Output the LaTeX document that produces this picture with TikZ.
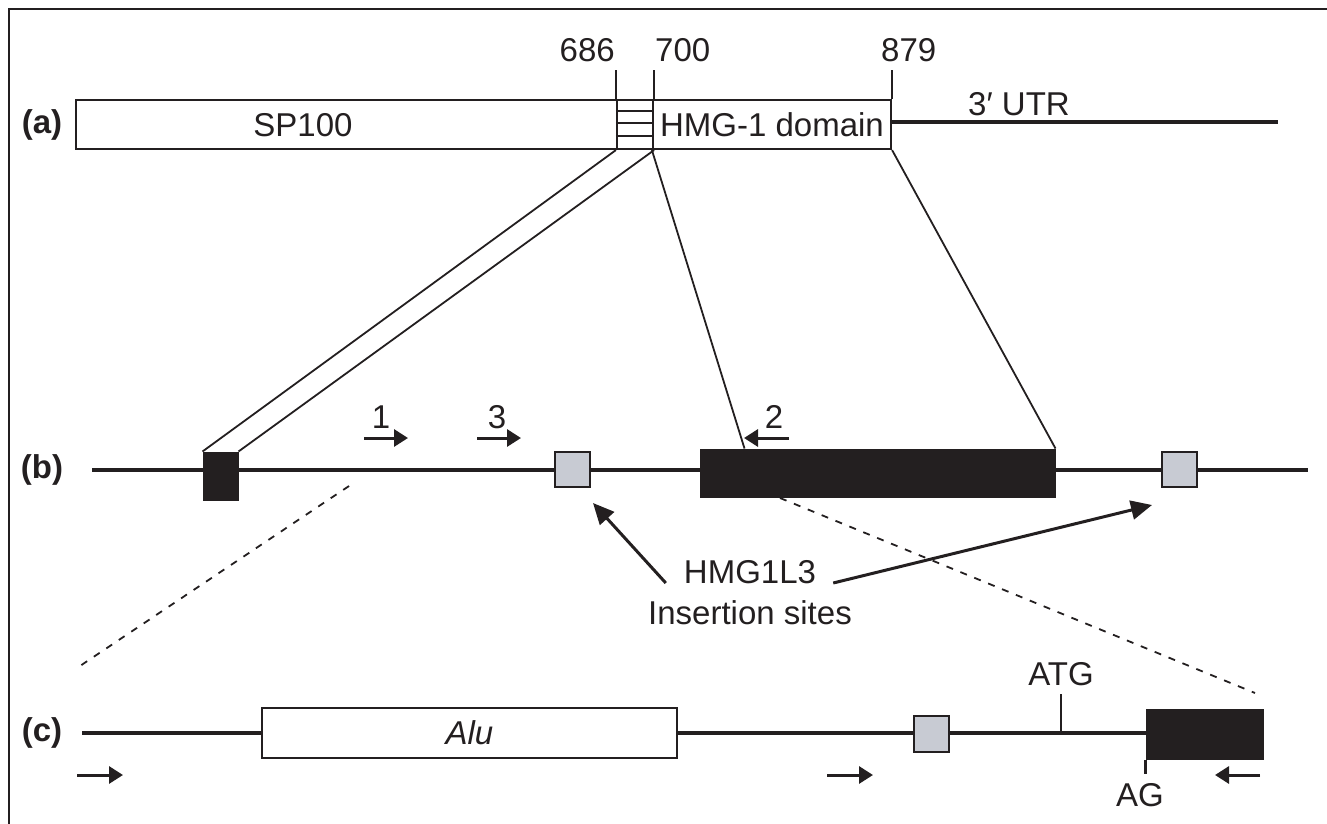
\documentclass[tikz,border=0pt]{standalone}
\definecolor{inkblack}{HTML}{231F20}
\definecolor{sitegray}{HTML}{C8CBD3}
\usepackage{fontspec}
\setmainfont{Liberation Sans}
\usepackage{tikz}
\usetikzlibrary{
    arrows.meta,
    positioning,
    calc
}
\tikzstyle{txt} = [
    inner sep=0pt,
    text=inkblack,
    font=\fontsize{33}{38}\selectfont
]
\tikzstyle{panel} = [
    txt,
    font=\fontsize{33}{38}\selectfont\bfseries
]
\tikzstyle{whitebox} = [
    rectangle,
    draw=inkblack,
    line width=2.2pt,
    fill=white,
    inner sep=0pt,
    text=inkblack,
    font=\fontsize{33}{38}\selectfont
]
\tikzstyle{exon} = [
    rectangle,
    draw=inkblack,
    line width=1pt,
    fill=inkblack,
    inner sep=0pt
]
\tikzstyle{site} = [
    rectangle,
    draw=inkblack,
    line width=2.2pt,
    fill=sitegray,
    inner sep=0pt,
    minimum width=35pt,
    minimum height=35pt
]
\tikzstyle{gene} = [
    line width=3.2pt,
    draw=inkblack
]
\tikzstyle{link} = [
    line width=1.8pt,
    draw=inkblack
]
\tikzstyle{zoomline} = [
    line width=1.8pt,
    draw=inkblack,
    dash pattern=on 7pt off 8pt
]
\tikzstyle{primer} = [
    -{Triangle[length=14pt,width=17pt]},
    line width=3pt,
    draw=inkblack,
    fill=inkblack
]
\tikzstyle{pointer} = [
    -{Triangle[length=21pt,width=19pt]},
    line width=3pt,
    draw=inkblack,
    fill=inkblack
]

\begin{document}
\begin{tikzpicture}[x=1pt, y=-1pt]
    \useasboundingbox (0,0) rectangle (1327,824);
    \draw[line width=2.6pt, inkblack] (9,824) -- (9,9) -- (1327,9);

    % (a) mRNA
    \node[panel] (lbla) at (42,125) {(a)};
    \coordinate (utrend) at (1278,122);
    \node[whitebox, minimum width=541pt, minimum height=49pt] (sp) at (346.5,124.5) {};
    \node[whitebox, minimum width=238pt, minimum height=49pt] (hmg) at (772,124.5) {HMG-1 domain};
    \node[whitebox, minimum width=36pt, minimum height=49pt] (rep) at (635,124.5) {};
    \node[txt] (sptxt) at (303,125) {SP100};
    \foreach \y in {111,123,136}
        \draw[line width=1.5pt, inkblack] (rep.west |- 0,\y) -- (rep.east |- 0,\y);
    \draw[gene] (hmg.east |- utrend) -- (utrend);
    \node[txt, anchor=base] (utr) at (1019,116) {3′ UTR};

    \draw[link] (rep.north west) -- ++(0,-29) coordinate (t686);
    \draw[link] (rep.north east) -- ++(0,-29) coordinate (t700);
    \draw[link] (hmg.north east) -- ++(0,-29) coordinate (t879);
    \node[txt, anchor=base east] (n686) at (615,62) {686};
    \node[txt, anchor=base west] (n700) at (655,62) {700};
    \node[txt, anchor=base west] (n879) at (881,62) {879};

    % (b) genomic region
    \node[panel] (lblb) at (42,470) {(b)};
    \coordinate (bstart) at (92,470);
    \coordinate (bend) at (1308,470);
    \draw[gene] (bstart) -- (bend);
    \node[exon, minimum width=35pt, minimum height=48pt] (ex1) at (220.5,476) {};
    \node[site] (ins1) at (572.5,469.5) {};
    \node[exon, minimum width=355pt, minimum height=48pt] (ex2) at (877.5,473) {};
    \node[site] (ins2) at (1179.5,469.5) {};

    \draw[link] (rep.south west) -- (ex1.north west);
    \draw[link] (rep.south east) -- (ex1.north east);
    \coordinate (ex2cut) at ($(ex2.north west)+(45,0)$);
    \draw[link] (hmg.south west) -- (ex2cut);
    \draw[link] (hmg.south east) -- (ex2.north east);

    \draw[primer] (364,438) -- ++(44,0);
    \node[txt, anchor=base] (p1) at (381,428) {1};
    \draw[primer] (477,438) -- ++(44,0);
    \node[txt, anchor=base] (p3) at (497,428) {3};
    \draw[primer] (789,438) -- ++(-45,0);
    \node[txt, anchor=base] (p2) at (774,428) {2};

    \node[txt, anchor=base] (hmgl) at (750,583) {HMG1L3};
    \node[txt, anchor=base, below=17pt of hmgl.base] (sites) {Insertion sites};
    \coordinate (tip1) at (593,503);
    \coordinate (tip2) at (1152,505);
    \draw[pointer] ([xshift=-18pt]hmgl.base west) -- (tip1);
    \draw[pointer] ([xshift=17pt]hmgl.base east) -- (tip2);

    % zoom into (c)
    \draw[zoomline] (349,486) -- (80,666);
    \draw[zoomline] (780,498) -- (1255,693);

    % (c) detail
    \node[panel] (lblc) at (42,733) {(c)};
    \coordinate (cstart) at (82,733);
    \node[exon, minimum width=117pt, minimum height=50pt] (exc) at (1204.5,734) {};
    \draw[gene] (cstart) -- (cstart -| exc.west);
    \node[whitebox, minimum width=415pt, minimum height=50pt] (alu) at (469.5,733) {\itshape Alu};
    \node[site, minimum height=36pt] (ins3) at (931.5,734) {};

    \coordinate (atg) at (1061,733);
    \draw[link, line width=2.2pt] (atg) -- ++(0,-39);
    \node[txt, anchor=base] (atgtxt) at (1061,685) {ATG};
    \draw[link, line width=2.2pt] (exc.south west) -- ++(0,14);
    \node[txt, anchor=base] (agtxt) at (1140,806) {AG};

    \draw[primer] (77,775) -- ++(46,0);
    \draw[primer] (827,775) -- ++(46,0);
    \draw[primer] (1260,775) -- ++(-45,0);
\end{tikzpicture}
\end{document}
